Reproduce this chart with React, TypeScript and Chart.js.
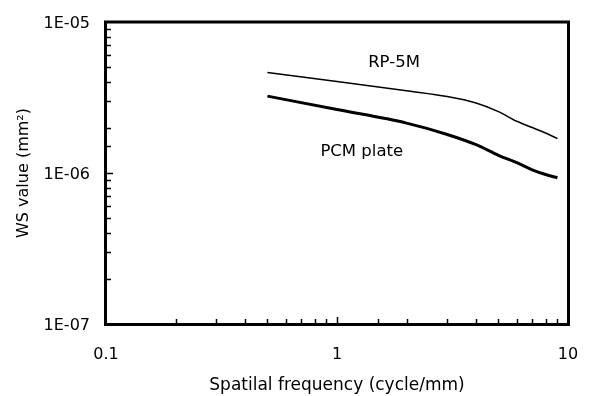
import React, { useEffect, useRef } from 'react';
import { Chart, registerables } from 'chart.js';

Chart.register(...registerables);

// Spatial frequency (cycle/mm)
const frequencies = [0.5, 1, 2, 3, 4, 5, 6, 7, 8, 9];
// WS value (mm^2)
const rp5m = [4.63e-6, 4.04e-6, 3.5e-6, 3.21e-6, 2.91e-6, 2.55e-6, 2.2e-6, 2.0e-6, 1.84e-6, 1.69e-6];
const pcmPlate = [3.23e-6, 2.63e-6, 2.14e-6, 1.8e-6, 1.54e-6, 1.31e-6, 1.17e-6, 1.05e-6, 9.77e-7, 9.3e-7];

const xTickLabels = ['0.1', '1', '10'];
const yTickLabels = ['1E-07', '1E-06', '1E-05'];

const seriesLabels = ['RP-5M', 'PCM plate'];
// label anchors in data coordinates (x, y)
const labelAnchors = [
  [1.765, 5.4e-6],
  [1.28, 1.39e-6],
];

const FONT = "'DejaVu Sans', Verdana, sans-serif";

const isPow10 = (v: number) => {
  const l = Math.log10(v);
  return Math.abs(l - Math.round(l)) < 1e-6;
};

const framePlugin = {
  id: 'frameTicks',
  afterDraw(chart: any) {
    const { ctx, chartArea: a, scales } = chart;
    const xs = scales.x;
    const ys = scales.y;
    ctx.save();
    ctx.strokeStyle = '#000';
    // inward ticks
    ctx.lineWidth = 1.5;
    ctx.beginPath();
    for (const t of xs.ticks) {
      const v = t.value;
      if (v <= 0.1 * 1.0001 || v >= 10 * 0.9999) continue;
      const px = Math.round(xs.getPixelForValue(v)) + 0.5;
      const len = isPow10(v) ? 7 : 5;
      ctx.moveTo(px, a.bottom);
      ctx.lineTo(px, a.bottom - len);
    }
    for (const t of ys.ticks) {
      const v = t.value;
      if (v <= 1e-7 * 1.0001 || v >= 1e-5 * 0.9999) continue;
      const py = Math.round(ys.getPixelForValue(v)) + 0.5;
      const len = isPow10(v) ? 7 : 5;
      ctx.moveTo(a.left, py);
      ctx.lineTo(a.left + len, py);
    }
    ctx.stroke();
    // frame
    ctx.lineWidth = 3;
    ctx.strokeRect(a.left - 0.5, a.top, a.right - a.left + 1, a.bottom - a.top + 0.5);
    // series labels
    ctx.fillStyle = '#000';
    ctx.font = `16.5px ${FONT}`;
    ctx.textAlign = 'center';
    ctx.textBaseline = 'middle';
    seriesLabels.forEach((s, i) => {
      const [lx, ly] = labelAnchors[i];
      ctx.fillText(s, xs.getPixelForValue(lx), ys.getPixelForValue(ly));
    });
    ctx.restore();
  },
};

const zeroPad = (s: any) => {
  s.paddingLeft = 0;
  s.paddingRight = 0;
  s.paddingTop = 0;
  s.paddingBottom = 0;
};

export default function App() {
  const ref = useRef<HTMLCanvasElement>(null);
  useEffect(() => {
    if (!ref.current) return;
    const chart = new Chart(ref.current, {
      type: 'line',
      data: {
        datasets: [
          {
            label: seriesLabels[0],
            data: frequencies.map((x, i) => ({ x, y: rp5m[i] })),
            borderColor: '#000',
            borderWidth: 1.5,
            pointRadius: 0,
            cubicInterpolationMode: 'monotone',
            fill: false,
          },
          {
            label: seriesLabels[1],
            data: frequencies.map((x, i) => ({ x, y: pcmPlate[i] })),
            borderColor: '#000',
            borderWidth: 3,
            pointRadius: 0,
            cubicInterpolationMode: 'monotone',
            fill: false,
          },
        ],
      },
      plugins: [framePlugin],
      options: {
        animation: false,
        responsive: false,
        devicePixelRatio: 1,
        layout: { padding: { left: 0, right: 24, top: 22, bottom: 0 } },
        plugins: { legend: { display: false }, tooltip: { enabled: false } },
        scales: {
          x: {
            type: 'logarithmic',
            min: 0.1,
            max: 10,
            grid: { display: false, drawTicks: false },
            border: { display: false },
            afterFit: (s: any) => {
              s.height = 72;
              zeroPad(s);
            },
            ticks: {
              autoSkip: false,
              maxRotation: 0,
              padding: 21,
              color: '#000',
              font: { family: FONT, size: 16 },
              callback: (v: any) => {
                const n = Number(v);
                if (!isPow10(n)) return '';
                return xTickLabels[Math.round(Math.log10(n)) + 1] ?? '';
              },
            },
            title: {
              display: true,
              text: 'Spatilal frequency (cycle/mm)',
              color: '#000',
              font: { family: FONT, size: 17 },
              padding: { top: 0, bottom: 0 },
            },
          },
          y: {
            type: 'logarithmic',
            min: 1e-7,
            max: 1e-5,
            grid: { display: false, drawTicks: false },
            border: { display: false },
            afterFit: (s: any) => {
              s.width = 106;
              zeroPad(s);
            },
            ticks: {
              autoSkip: false,
              padding: 16,
              labelOffset: 2,
              color: '#000',
              font: { family: FONT, size: 16 },
              callback: (v: any) => {
                const n = Number(v);
                if (!isPow10(n)) return '';
                return yTickLabels[Math.round(Math.log10(n)) + 7] ?? '';
              },
            },
            title: {
              display: true,
              text: 'WS value (mm²)',
              color: '#000',
              font: { family: FONT, size: 16 },
              padding: { top: 14, bottom: 0 },
            },
          },
        },
      },
    } as any);
    return () => chart.destroy();
  }, []);
  return (
    <div style={{ position: 'absolute', left: 0, top: 0, width: 592, height: 396, background: '#fff' }}>
      <canvas ref={ref} width={592} height={396} style={{ display: 'block' }} />
    </div>
  );
}
